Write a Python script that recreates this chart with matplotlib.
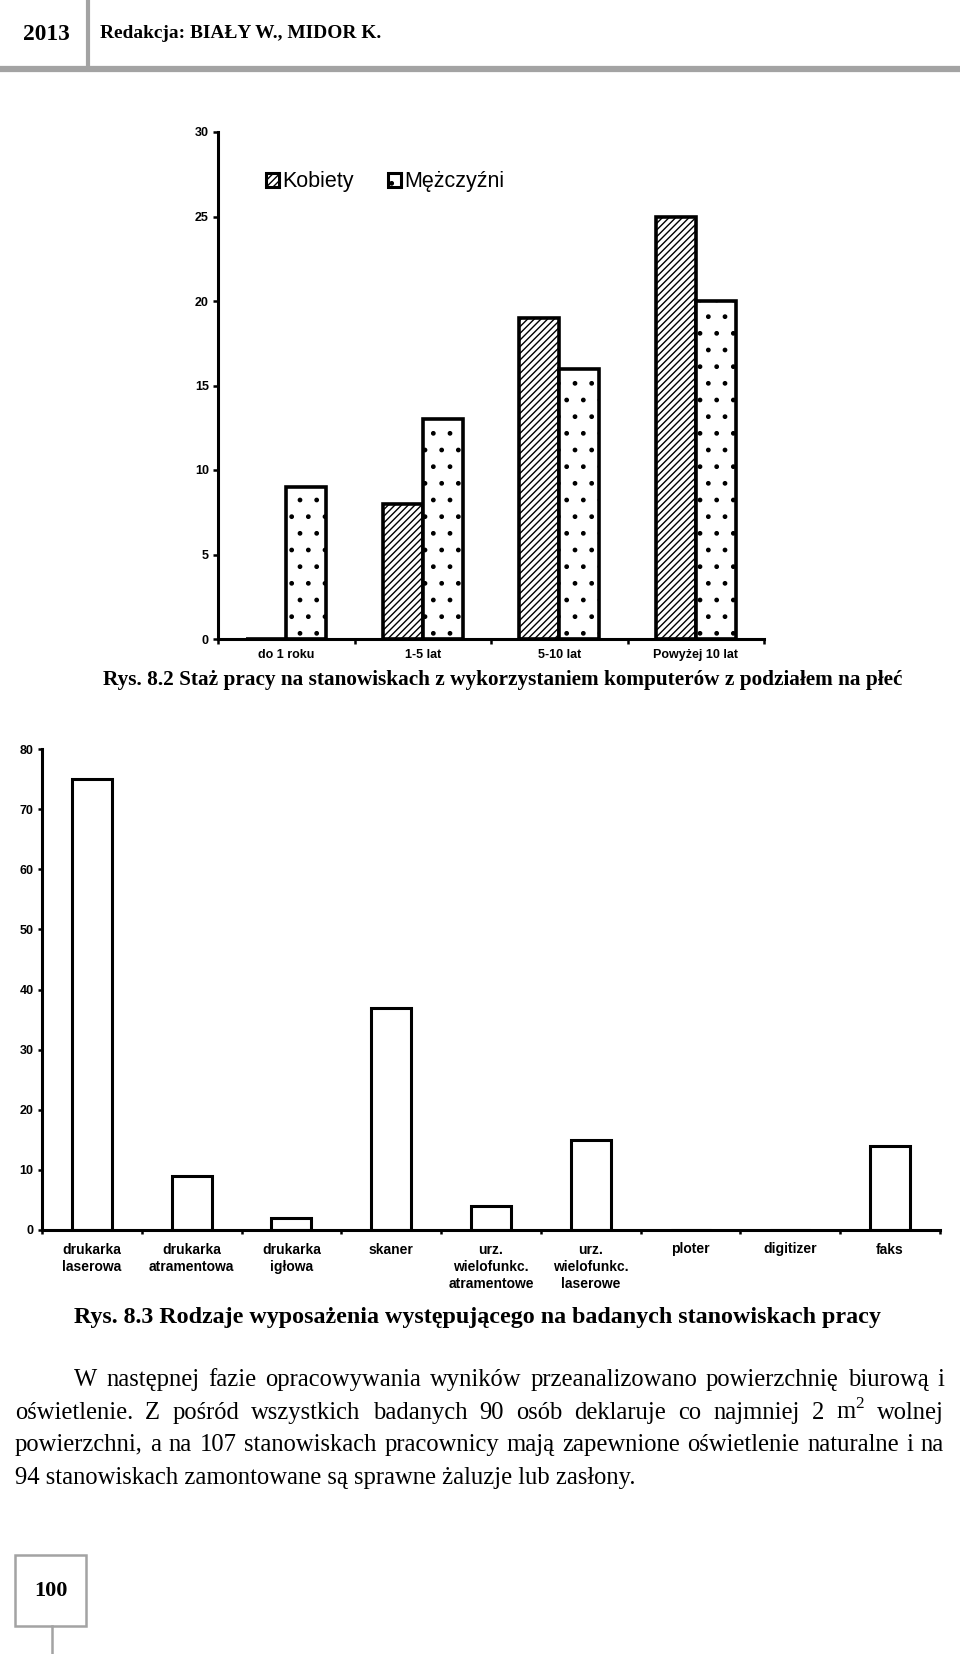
import numpy as np
import matplotlib
matplotlib.use('Agg')
import matplotlib.pyplot as plt
from matplotlib.lines import Line2D
from matplotlib.patches import Rectangle, Patch

W, H = 960, 1654      # page size in pixels (dpi 100)

# --- dane: staż pracy z podziałem na płeć ---
staz_labels = ['do 1 roku', '1-5 lat', '5-10 lat', 'Powyżej 10 lat']
kobiety = [0, 8, 19, 25]
mezczyzni = [9, 13, 16, 20]
staz_yticks = [0, 5, 10, 15, 20, 25, 30]

# --- dane: rodzaje wyposażenia ---
sprzet_labels = ['drukarka\nlaserowa', 'drukarka\natramentowa', 'drukarka\nigłowa',
                 'skaner', 'urz.\nwielofunkc.\natramentowe', 'urz.\nwielofunkc.\nlaserowe',
                 'ploter', 'digitizer', 'faks']
sprzet = [75, 9, 2, 37, 4, 15, 0, 0, 14]
sprzet_yticks = [0, 10, 20, 30, 40, 50, 60, 70, 80]

# --- teksty strony ---
header_year = '2013'
header_ed = 'Redakcja: BIAŁY W., MIDOR K.'
caption1 = 'Rys. 8.2 Staż pracy na stanowiskach z wykorzystaniem komputerów z podziałem na płeć'
caption2 = 'Rys. 8.3 Rodzaje wyposażenia występującego na badanych stanowiskach pracy'
para = ['W następnej fazie opracowywania wyników przeanalizowano powierzchnię biurową i',
        'oświetlenie. Z pośród wszystkich badanych 90 osób deklaruje co najmniej 2 m$^2$ wolnej',
        'powierzchni, a na 107 stanowiskach pracownicy mają zapewnione oświetlenie naturalne i na',
        '94 stanowiskach zamontowane są sprawne żaluzje lub zasłony.']
page_no = '100'

plt.rcParams['font.family'] = ['Liberation Sans', 'DejaVu Sans']
plt.rcParams['mathtext.fontset'] = 'custom'
plt.rcParams['mathtext.rm'] = 'Liberation Serif'
plt.rcParams['hatch.linewidth'] = 1.0
SERIF = ['Liberation Serif', 'DejaVu Serif']

fig = plt.figure(figsize=(W/100, H/100), dpi=100)
renderer = fig.canvas.get_renderer()


def fx(px):
    return px / W


def fy(py):
    return 1 - py / H


def fit_text(x, y, s, width, **kw):
    """put text at pixel pos and scale the font so it is width px wide"""
    t = fig.text(fx(x), fy(y), s, **kw)
    w = t.get_window_extent(renderer).width
    t.set_fontsize(t.get_fontsize() * width / w)
    return t


# ---------------- header ----------------
gray = '#a3a3a3'
fig.add_artist(Line2D([fx(3), fx(957)], [fy(69), fy(69)], color=gray, lw=4.5))
fig.add_artist(Line2D([fx(88), fx(88)], [fy(0), fy(69)], color=gray, lw=3))
fit_text(23, 34, header_year, 47, family=SERIF, weight='bold', va='center', fontsize=14)
fit_text(100, 34, header_ed, 282, family=SERIF, weight='bold', va='center', fontsize=14)

# ---------------- wykres 1 ----------------
ax1 = fig.add_axes([fx(218), fy(639), (764 - 218) / W, (639 - 132) / H])
x = np.arange(len(staz_labels))
w = 0.293
ax1.bar(x - w, kobiety, w, align='edge', color='white', edgecolor='black',
        hatch='/////', lw=2.6)
ax1.bar(x, mezczyzni, w, align='edge', color='white', edgecolor='black',
        hatch='.', lw=2.6)
ax1.set_xlim(-0.5, len(staz_labels) - 0.5)
ax1.set_ylim(0, 30)
ax1.set_yticks(staz_yticks)
ax1.set_xticks(x)
ax1.set_xticklabels(staz_labels, fontsize=9, fontweight='bold')
ax1.set_xticks(np.arange(-0.5, len(staz_labels), 1), minor=True)
ax1.tick_params(axis='x', which='major', length=0, pad=7)
ax1.tick_params(axis='x', which='minor', length=3.5, width=1.8)
ax1.tick_params(axis='y', length=3.5, width=1.8, pad=3, labelsize=9)
for lab in ax1.get_yticklabels():
    lab.set_fontweight('bold')
for s in ['top', 'right']:
    ax1.spines[s].set_visible(False)
for s in ['left', 'bottom']:
    ax1.spines[s].set_linewidth(2.2)

handles = [Patch(fc='white', ec='black', hatch='/////', lw=2.2),
           Patch(fc='white', ec='black', hatch='.', lw=2.2)]
fig.legend(handles=handles, labels=['Kobiety', 'Mężczyźni'], loc='center left',
           bbox_to_anchor=(fx(266), fy(182)), ncol=2, frameon=False, fontsize=15.5,
           handlelength=0.6, handleheight=0.6, handletextpad=0.15,
           columnspacing=1.6, borderpad=0, borderaxespad=0)

fit_text(103, 680, caption1, 802, family=SERIF, weight='bold', va='center', fontsize=14)

# ---------------- wykres 2 ----------------
ax2 = fig.add_axes([fx(42), fy(1230), (940 - 42) / W, (1230 - 749) / H])
x2 = np.arange(len(sprzet_labels))
ax2.bar(x2, sprzet, 0.4, color='white', edgecolor='black', lw=2.2)
ax2.set_xlim(-0.5, len(sprzet_labels) - 0.5)
ax2.set_ylim(0, 80)
ax2.set_yticks(sprzet_yticks)
ax2.set_xticks(x2)
ax2.set_xticklabels(sprzet_labels, fontsize=10, fontweight='bold',
                    linespacing=1.3, va='top')
ax2.set_xticks(np.arange(-0.5, len(sprzet_labels), 1), minor=True)
ax2.tick_params(axis='x', which='major', length=0, pad=9)
ax2.tick_params(axis='x', which='minor', length=3, width=1.8)
ax2.tick_params(axis='y', length=3, width=1.8, pad=3, labelsize=9)
for lab in ax2.get_yticklabels():
    lab.set_fontweight('bold')
for s in ['top', 'right']:
    ax2.spines[s].set_visible(False)
for s in ['left', 'bottom']:
    ax2.spines[s].set_linewidth(2.2)

fit_text(74, 1317, caption2, 810, family=SERIF, weight='bold', va='center', fontsize=14)

# ---------------- akapit (wyjustowany) ----------------
starts = [74, 15, 15, 15]
right = 944
base = [1386, 1419, 1451, 1484]
last = fit_text(starts[3], base[3], para[3], 624, family=SERIF, va='baseline', fontsize=14)
fs = last.get_fontsize()
for i in range(3):
    words = para[i].split(' ')
    ts = [fig.text(0, fy(base[i]), wd, family=SERIF, fontsize=fs, va='baseline')
          for wd in words]
    widths = [t.get_window_extent(renderer).width for t in ts]
    gap = (right - starts[i] - sum(widths)) / (len(words) - 1)
    xp = starts[i]
    for t, wd in zip(ts, widths):
        t.set_x(fx(xp))
        xp += wd + gap

# ---------------- numer strony ----------------
fig.add_artist(Rectangle((fx(15), fy(1626)), fx(86) - fx(15), fy(1555) - fy(1626),
                         fill=False, ec=gray, lw=1.8))
fig.add_artist(Line2D([fx(52), fx(52)], [fy(1626), fy(1654)], color=gray, lw=1.8))
fig.text(fx(51), fy(1591), page_no, family=SERIF, weight='bold', fontsize=16,
         ha='center', va='center')

fig.savefig('out.png', dpi=100)
